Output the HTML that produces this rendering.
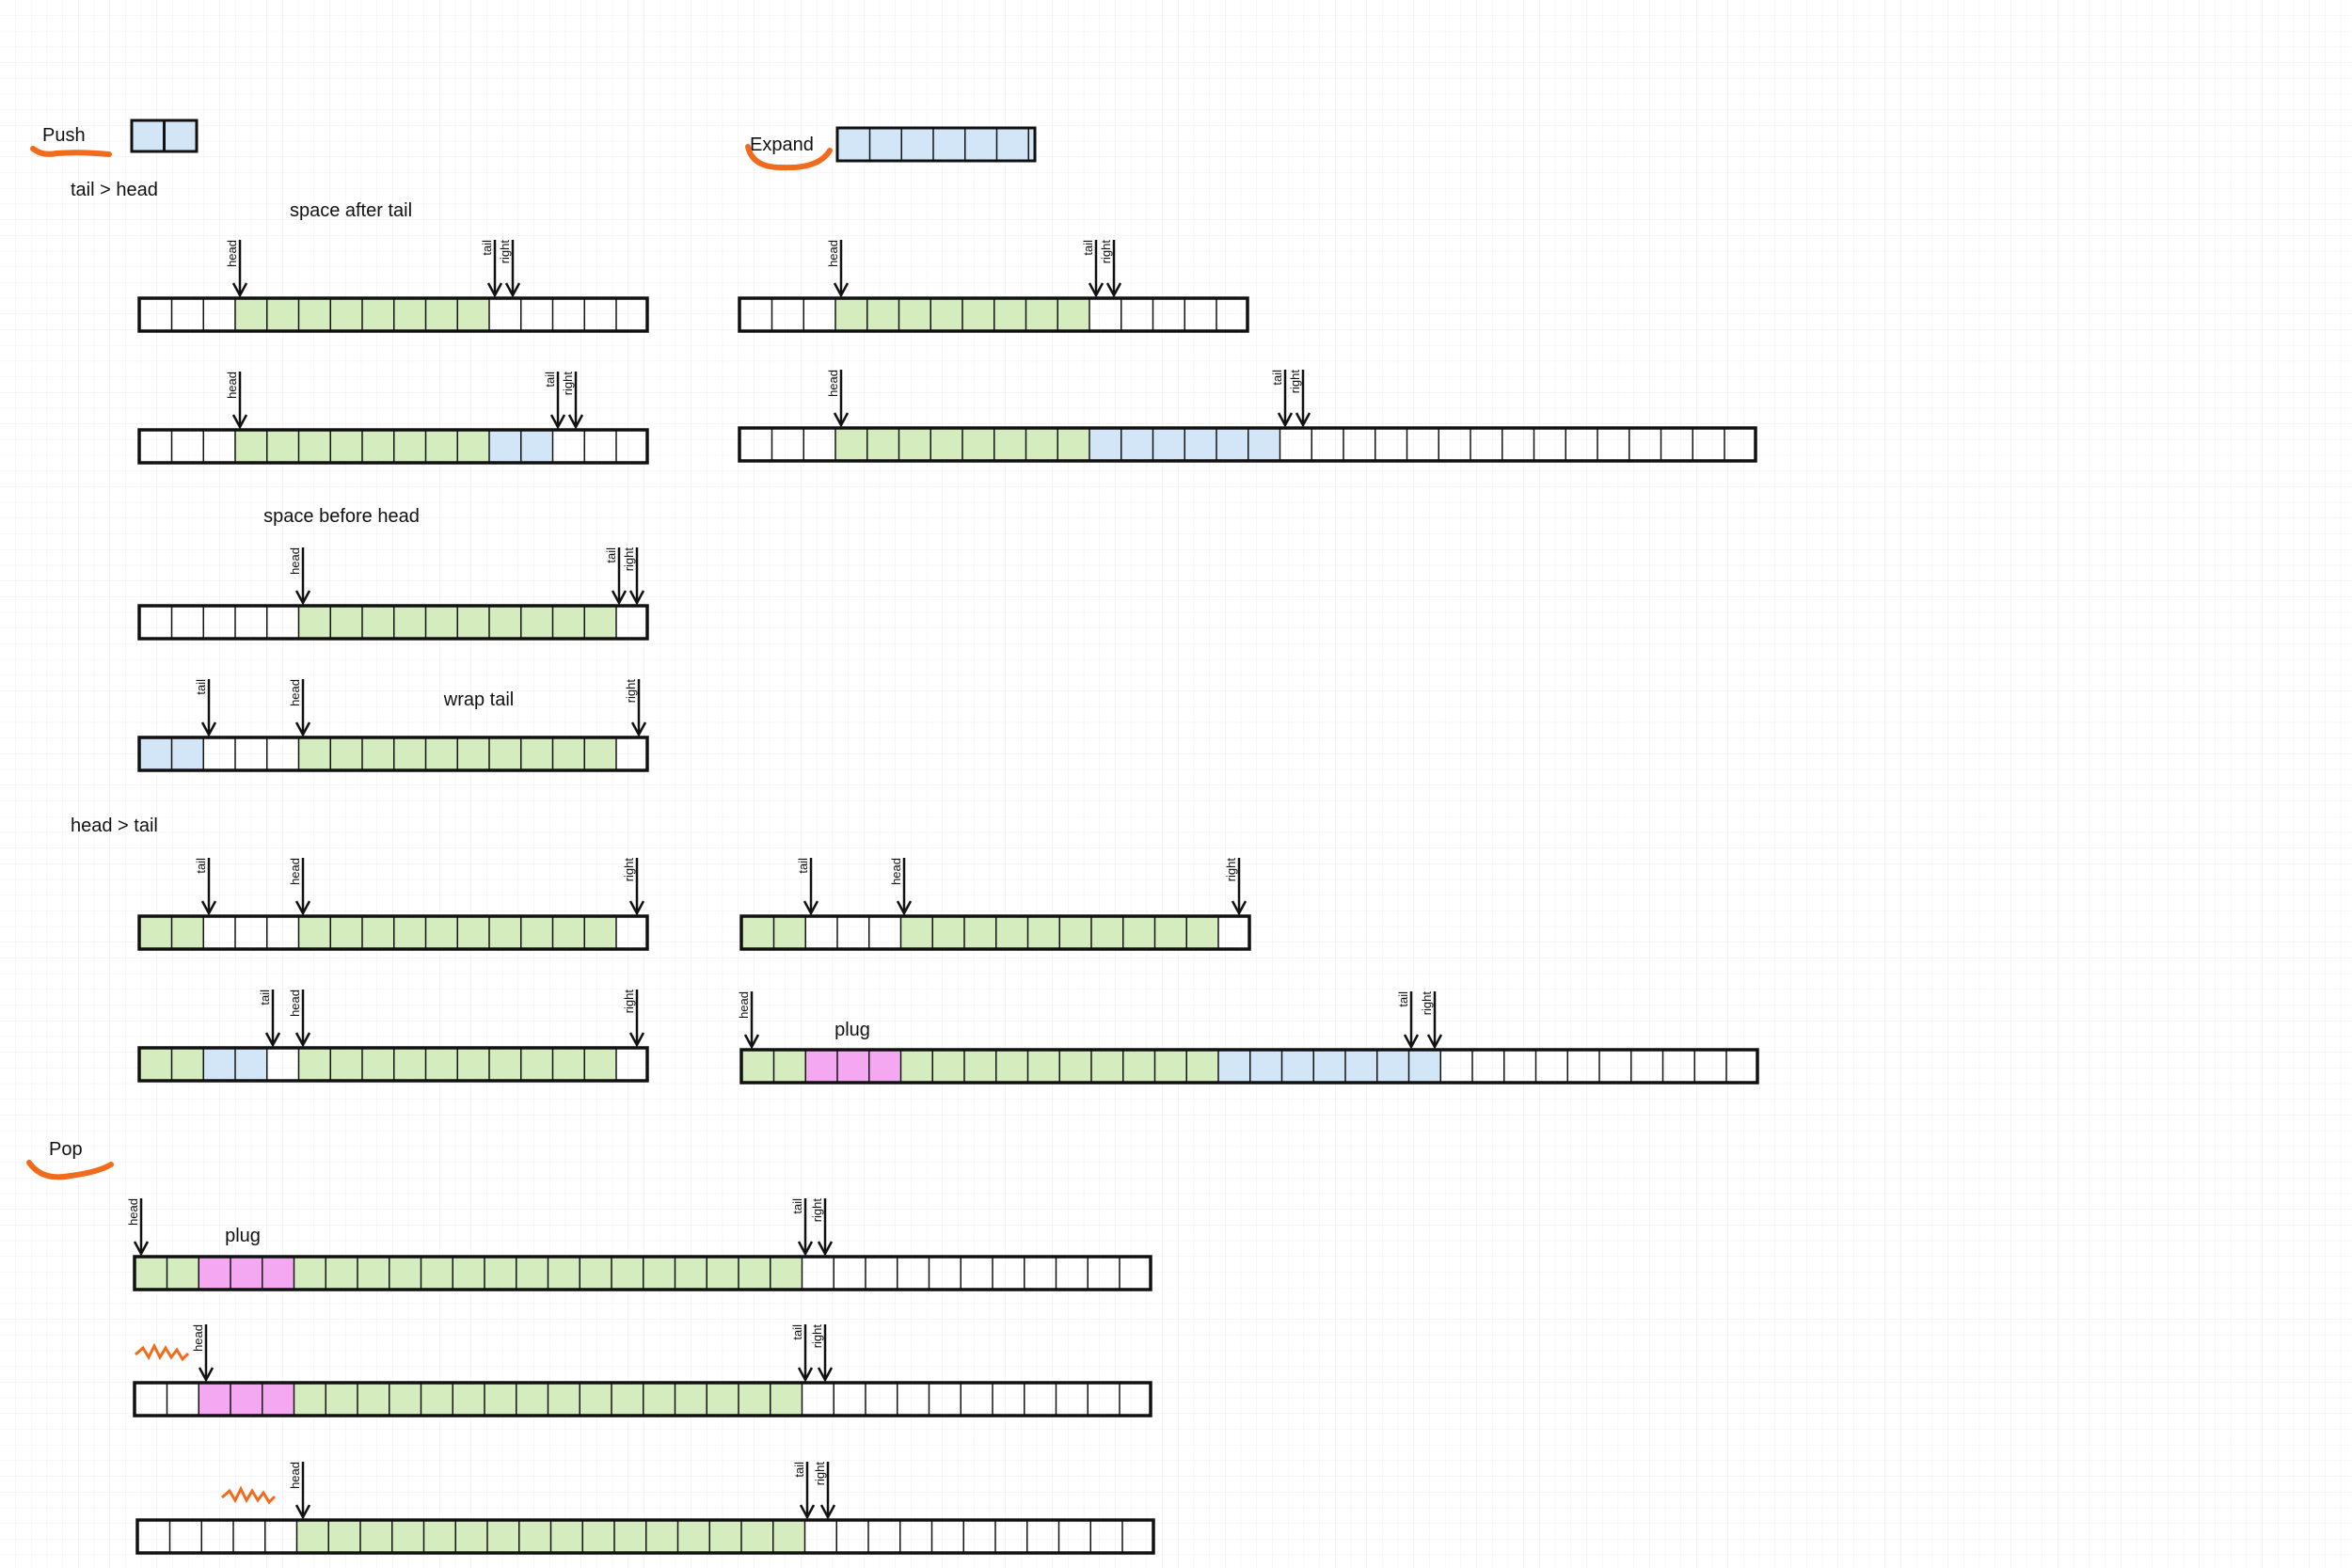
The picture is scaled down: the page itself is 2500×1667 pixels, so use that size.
<!DOCTYPE html>
<html><head><meta charset="utf-8"><style>
html,body{margin:0;padding:0;background:#fff}
svg{display:block}
text{font-family:"Liberation Sans",sans-serif;fill:#111}
.lbl{font-size:13px}
</style></head><body>
<svg width="2500" height="1667" viewBox="0 0 2500 1667" xmlns="http://www.w3.org/2000/svg">
<defs>
<pattern id="grid" width="16.7" height="16.7" patternUnits="userSpaceOnUse">
<path d="M16.7 0V16.7H0" fill="none" stroke="#ececec" stroke-width="1"/>
</pattern>
<pattern id="cells" width="33.75" height="35" patternUnits="userSpaceOnUse">
<line x1="0" y1="0" x2="0" y2="35" stroke="#111" stroke-width="3"/>
</pattern>
<g id="a"><line x1="0" y1="0" x2="0" y2="59" stroke="#111" stroke-width="2.5"/><polyline points="-7,46 0,59 7,46" fill="none" stroke="#111" stroke-width="2.5"/></g>
</defs>
<rect width="2500" height="1667" fill="url(#grid)"/>

<!-- headers -->
<text x="45" y="150" font-size="20">Push</text>
<path d="M35 158 Q45 166 60 163 Q85 161 116 164" fill="none" stroke="#f26a1b" stroke-width="6" stroke-linecap="round"/>
<g transform="translate(140,128)"><rect width="69" height="33" fill="#d3e6f8"/><line x1="34.5" y1="0" x2="34.5" y2="33" stroke="#111" stroke-width="3"/><rect width="69" height="33" fill="none" stroke="#111" stroke-width="3"/></g>
<text x="75" y="208" font-size="20">tail &gt; head</text>
<text x="373" y="230" font-size="20" text-anchor="middle">space after tail</text>
<text x="363" y="555" font-size="20" text-anchor="middle">space before head</text>
<text x="509" y="750" font-size="20" text-anchor="middle">wrap tail</text>
<text x="75" y="884" font-size="20">head &gt; tail</text>

<text x="797" y="160" font-size="20">Expand</text>
<path d="M795 156 Q800 178 830 178 Q870 180 882 160" fill="none" stroke="#f26a1b" stroke-width="6" stroke-linecap="round"/>
<g transform="translate(890,136)"><rect width="210" height="35" fill="#d3e6f8"/><rect width="210" height="35" fill="url(#cells)"/><rect width="210" height="35" fill="none" stroke="#111" stroke-width="3"/></g>

<text x="52" y="1228" font-size="20">Pop</text>
<path d="M31 1236 Q45 1256 75 1250 Q105 1246 118 1238" fill="none" stroke="#f26a1b" stroke-width="6" stroke-linecap="round"/>
<text x="258" y="1320" font-size="20" text-anchor="middle">plug</text>
<text x="906" y="1101" font-size="20" text-anchor="middle">plug</text>
<path d="M144 1440 l8 -7 l6 10 l6 -12 l6 12 l6 -10 l6 10 l6 -8 l6 10 l6 -6" fill="none" stroke="#f26a1b" stroke-width="3"/>
<path d="M236 1592 l8 -7 l6 10 l6 -12 l6 12 l6 -10 l6 10 l6 -8 l6 10 l6 -6" fill="none" stroke="#f26a1b" stroke-width="3"/>

<!-- rows -->
<g transform="translate(148,317)"><rect x="101.25" width="270" height="35" fill="#d5ecbf"/><rect width="540" height="35" fill="url(#cells)"/><rect width="540" height="35" fill="none" stroke="#111" stroke-width="3.5"/></g>
<g transform="translate(148,457)"><rect x="101.25" width="270" height="35" fill="#d5ecbf"/><rect x="371.25" width="67.5" height="35" fill="#d3e6f8"/><rect width="540" height="35" fill="url(#cells)"/><rect width="540" height="35" fill="none" stroke="#111" stroke-width="3.5"/></g>
<g transform="translate(148,644)"><rect x="168.75" width="337.5" height="35" fill="#d5ecbf"/><rect width="540" height="35" fill="url(#cells)"/><rect width="540" height="35" fill="none" stroke="#111" stroke-width="3.5"/></g>
<g transform="translate(148,784)"><rect x="0" width="67.5" height="35" fill="#d3e6f8"/><rect x="168.75" width="337.5" height="35" fill="#d5ecbf"/><rect width="540" height="35" fill="url(#cells)"/><rect width="540" height="35" fill="none" stroke="#111" stroke-width="3.5"/></g>
<g transform="translate(148,974)"><rect x="0" width="67.5" height="35" fill="#d5ecbf"/><rect x="168.75" width="337.5" height="35" fill="#d5ecbf"/><rect width="540" height="35" fill="url(#cells)"/><rect width="540" height="35" fill="none" stroke="#111" stroke-width="3.5"/></g>
<g transform="translate(148,1114)"><rect x="0" width="67.5" height="35" fill="#d5ecbf"/><rect x="67.5" width="67.5" height="35" fill="#d3e6f8"/><rect x="168.75" width="337.5" height="35" fill="#d5ecbf"/><rect width="540" height="35" fill="url(#cells)"/><rect width="540" height="35" fill="none" stroke="#111" stroke-width="3.5"/></g>

<g transform="translate(786,317)"><rect x="101.25" width="270" height="35" fill="#d5ecbf"/><rect width="540" height="35" fill="url(#cells)"/><rect width="540" height="35" fill="none" stroke="#111" stroke-width="3.5"/></g>
<g transform="translate(786,455)"><rect x="101.25" width="270" height="35" fill="#d5ecbf"/><rect x="371.25" width="202.5" height="35" fill="#d3e6f8"/><rect width="1080" height="35" fill="url(#cells)"/><rect width="1080" height="35" fill="none" stroke="#111" stroke-width="3.5"/></g>
<g transform="translate(788,974)"><rect x="0" width="67.5" height="35" fill="#d5ecbf"/><rect x="168.75" width="337.5" height="35" fill="#d5ecbf"/><rect width="540" height="35" fill="url(#cells)"/><rect width="540" height="35" fill="none" stroke="#111" stroke-width="3.5"/></g>
<g transform="translate(788,1116)"><rect x="0" width="67.5" height="35" fill="#d5ecbf"/><rect x="67.5" width="101.25" height="35" fill="#f5a8f2"/><rect x="168.75" width="337.5" height="35" fill="#d5ecbf"/><rect x="506.25" width="236.25" height="35" fill="#d3e6f8"/><rect width="1080" height="35" fill="url(#cells)"/><rect width="1080" height="35" fill="none" stroke="#111" stroke-width="3.5"/></g>

<g transform="translate(143,1336)"><rect x="0" width="67.5" height="35" fill="#d5ecbf"/><rect x="67.5" width="101.25" height="35" fill="#f5a8f2"/><rect x="168.75" width="540" height="35" fill="#d5ecbf"/><rect width="1080" height="35" fill="url(#cells)"/><rect width="1080" height="35" fill="none" stroke="#111" stroke-width="3.5"/></g>
<g transform="translate(143,1470)"><rect x="67.5" width="101.25" height="35" fill="#f5a8f2"/><rect x="168.75" width="540" height="35" fill="#d5ecbf"/><rect width="1080" height="35" fill="url(#cells)"/><rect width="1080" height="35" fill="none" stroke="#111" stroke-width="3.5"/></g>
<g transform="translate(146,1616)"><rect x="168.75" width="540" height="35" fill="#d5ecbf"/><rect width="1080" height="35" fill="url(#cells)"/><rect width="1080" height="35" fill="none" stroke="#111" stroke-width="3.5"/></g>

<!-- arrows: translate(x, rowY-62) -->
<g class="lbl">
<use href="#a" x="255" y="255"/><text transform="translate(251,255) rotate(-90)" text-anchor="end">head</text>
<use href="#a" x="526" y="255"/><text transform="translate(522,255) rotate(-90)" text-anchor="end">tail</text>
<use href="#a" x="545" y="255"/><text transform="translate(541,255) rotate(-90)" text-anchor="end">right</text>

<use href="#a" x="255" y="395"/><text transform="translate(251,395) rotate(-90)" text-anchor="end">head</text>
<use href="#a" x="593" y="395"/><text transform="translate(589,395) rotate(-90)" text-anchor="end">tail</text>
<use href="#a" x="612" y="395"/><text transform="translate(608,395) rotate(-90)" text-anchor="end">right</text>

<use href="#a" x="322" y="582"/><text transform="translate(318,582) rotate(-90)" text-anchor="end">head</text>
<use href="#a" x="658" y="582"/><text transform="translate(654,582) rotate(-90)" text-anchor="end">tail</text>
<use href="#a" x="677" y="582"/><text transform="translate(673,582) rotate(-90)" text-anchor="end">right</text>

<use href="#a" x="222" y="722"/><text transform="translate(218,722) rotate(-90)" text-anchor="end">tail</text>
<use href="#a" x="322" y="722"/><text transform="translate(318,722) rotate(-90)" text-anchor="end">head</text>
<use href="#a" x="679" y="722"/><text transform="translate(675,722) rotate(-90)" text-anchor="end">right</text>

<use href="#a" x="222" y="912"/><text transform="translate(218,912) rotate(-90)" text-anchor="end">tail</text>
<use href="#a" x="322" y="912"/><text transform="translate(318,912) rotate(-90)" text-anchor="end">head</text>
<use href="#a" x="677" y="912"/><text transform="translate(673,912) rotate(-90)" text-anchor="end">right</text>

<use href="#a" x="290" y="1052"/><text transform="translate(286,1052) rotate(-90)" text-anchor="end">tail</text>
<use href="#a" x="322" y="1052"/><text transform="translate(318,1052) rotate(-90)" text-anchor="end">head</text>
<use href="#a" x="677" y="1052"/><text transform="translate(673,1052) rotate(-90)" text-anchor="end">right</text>

<use href="#a" x="894" y="255"/><text transform="translate(890,255) rotate(-90)" text-anchor="end">head</text>
<use href="#a" x="1165" y="255"/><text transform="translate(1161,255) rotate(-90)" text-anchor="end">tail</text>
<use href="#a" x="1184" y="255"/><text transform="translate(1180,255) rotate(-90)" text-anchor="end">right</text>

<use href="#a" x="894" y="393"/><text transform="translate(890,393) rotate(-90)" text-anchor="end">head</text>
<use href="#a" x="1366" y="393"/><text transform="translate(1362,393) rotate(-90)" text-anchor="end">tail</text>
<use href="#a" x="1385" y="393"/><text transform="translate(1381,393) rotate(-90)" text-anchor="end">right</text>

<use href="#a" x="862" y="912"/><text transform="translate(858,912) rotate(-90)" text-anchor="end">tail</text>
<use href="#a" x="961" y="912"/><text transform="translate(957,912) rotate(-90)" text-anchor="end">head</text>
<use href="#a" x="1317" y="912"/><text transform="translate(1313,912) rotate(-90)" text-anchor="end">right</text>

<use href="#a" x="799" y="1054"/><text transform="translate(795,1054) rotate(-90)" text-anchor="end">head</text>
<use href="#a" x="1500" y="1054"/><text transform="translate(1496,1054) rotate(-90)" text-anchor="end">tail</text>
<use href="#a" x="1525" y="1054"/><text transform="translate(1521,1054) rotate(-90)" text-anchor="end">right</text>

<use href="#a" x="150" y="1274"/><text transform="translate(146,1274) rotate(-90)" text-anchor="end">head</text>
<use href="#a" x="856" y="1274"/><text transform="translate(852,1274) rotate(-90)" text-anchor="end">tail</text>
<use href="#a" x="877" y="1274"/><text transform="translate(873,1274) rotate(-90)" text-anchor="end">right</text>

<use href="#a" x="219" y="1408"/><text transform="translate(215,1408) rotate(-90)" text-anchor="end">head</text>
<use href="#a" x="856" y="1408"/><text transform="translate(852,1408) rotate(-90)" text-anchor="end">tail</text>
<use href="#a" x="877" y="1408"/><text transform="translate(873,1408) rotate(-90)" text-anchor="end">right</text>

<use href="#a" x="322" y="1554"/><text transform="translate(318,1554) rotate(-90)" text-anchor="end">head</text>
<use href="#a" x="858" y="1554"/><text transform="translate(854,1554) rotate(-90)" text-anchor="end">tail</text>
<use href="#a" x="880" y="1554"/><text transform="translate(876,1554) rotate(-90)" text-anchor="end">right</text>
</g>
</svg>
</body></html>
